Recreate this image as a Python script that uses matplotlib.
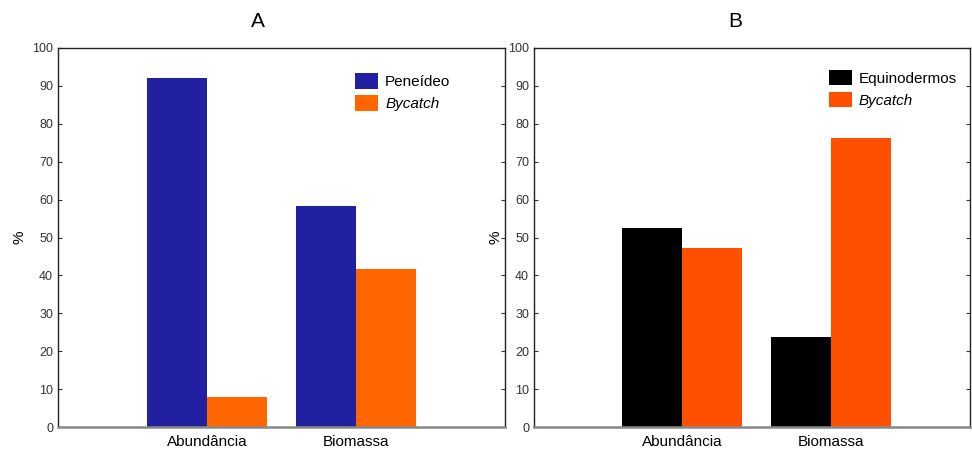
import matplotlib
matplotlib.use("Agg")
import numpy as np
import matplotlib.pyplot as plt

plt.rcParams["font.family"] = ["Liberation Sans", "DejaVu Sans"]

# dados
categorias = ["Abundância", "Biomassa"]
peneideo = [92, 58.3]
bycatch_a = [7.9, 41.7]
equinodermos = [52.6, 23.8]
bycatch_b = [47.2, 76.2]
yticks = np.arange(0, 101, 10)


def painel(ax, v1, v2, nome1, cor1, cor2, titulo, tit_x, leg_x, leg_y, xmax):
    x = np.arange(len(categorias))
    w = 0.405
    ax.bar(x - w / 2, v1, w, color=cor1, label=nome1)
    ax.bar(x + w / 2, v2, w, color=cor2, label="Bycatch")
    ax.set_xlim(-1, xmax)
    ax.set_ylim(0, 100)
    ax.set_yticks(yticks)
    ax.set_xticks(x)
    ax.set_xticklabels(categorias, fontsize=11)
    ax.tick_params(axis="x", length=0, pad=6)
    ax.tick_params(axis="y", direction="in", length=3, labelsize=9,
                   right=True, colors="#333333", labelcolor="#333333")
    for s in ["left", "right", "top"]:
        ax.spines[s].set_color("#222222")
        ax.spines[s].set_linewidth(1.0)
    ax.spines["bottom"].set_color("#888888")
    ax.spines["bottom"].set_linewidth(1.8)
    ax.set_ylabel("%", fontsize=11, labelpad=4)
    ax.text(tit_x, 1.07, titulo, transform=ax.transAxes, fontsize=15,
            ha="center", va="center")
    leg = ax.legend(loc="upper left", bbox_to_anchor=(leg_x, leg_y), frameon=False,
                    fontsize=11, handlelength=1.5, handleheight=1.2,
                    handletextpad=0.45, labelspacing=0.4, borderaxespad=0, borderpad=0)
    leg.get_texts()[1].set_fontstyle("italic")


fig = plt.figure(figsize=(9.72, 4.49), dpi=100)
W, H = 972, 449
ax1 = fig.add_axes([58 / W, 1 - 427 / H, (505 - 58) / W, (427 - 48) / H])
ax2 = fig.add_axes([534 / W, 1 - 427 / H, (970 - 534) / W, (427 - 48) / H])

painel(ax1, peneideo, bycatch_a, "Peneídeo", "#2020A0", "#FF6600", "A", 0.447, 0.665, 0.933, 2.0)
painel(ax2, equinodermos, bycatch_b, "Equinodermos", "#000000", "#FF5000", "B", 0.461, 0.677, 0.943, 1.94)

fig.savefig("out.png", dpi=100)
